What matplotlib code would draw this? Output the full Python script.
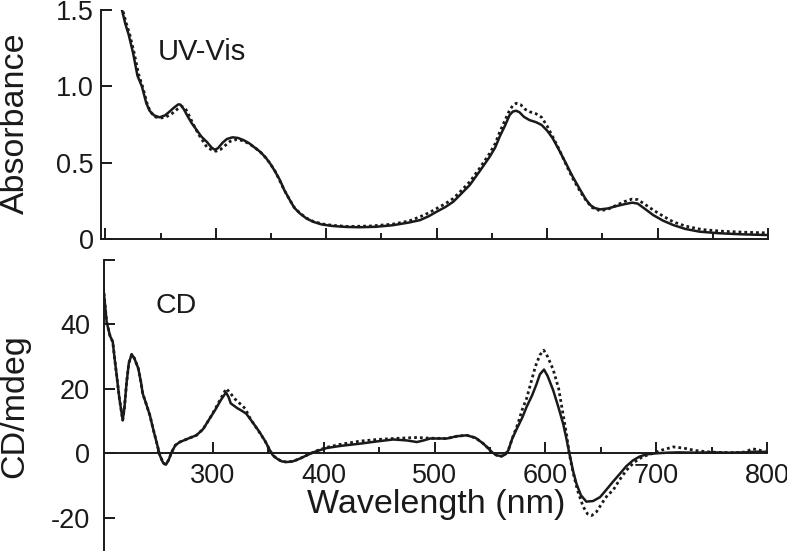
# UV-Vis absorbance and CD spectra, solid vs dotted sample

import matplotlib
matplotlib.use("Agg")
import matplotlib.pyplot as plt
from matplotlib.ticker import MultipleLocator

plt.rcParams['font.family'] = ['Liberation Sans', 'DejaVu Sans']

# UV-Vis, solid trace
wl_abs_solid = [215, 218, 221, 225, 229, 233, 237, 240, 244, 249, 254, 258, 262, 266, 268,
                271, 274, 278, 283, 287, 292, 296, 299, 302, 306, 310, 315, 320, 325, 330,
                335, 340, 345, 349, 353, 358, 362, 367, 371, 376, 382, 388, 396, 406, 418,
                430, 445, 460, 475, 485, 493, 500, 508, 515, 522, 530, 539, 548, 553, 557,
                562, 566, 569, 572, 575, 579, 584, 590, 595, 600, 605, 611, 617, 623, 630,
                635, 639, 643, 648, 655, 663, 670, 677, 682, 689, 696, 705, 714, 725, 738,
                755, 775, 799]
abs_solid = [1.50, 1.41, 1.34, 1.22, 1.07, 1.00, 0.89, 0.84, 0.81, 0.797, 0.81, 0.834, 0.86, 0.882, 0.88,
             0.85, 0.81, 0.76, 0.71, 0.67, 0.635, 0.60, 0.585, 0.595, 0.63, 0.655, 0.666, 0.662, 0.648, 0.628,
             0.60, 0.572, 0.535, 0.496, 0.45, 0.386, 0.32, 0.255, 0.205, 0.168, 0.135, 0.113, 0.095, 0.085, 0.079,
             0.077, 0.080, 0.090, 0.108, 0.124, 0.15, 0.179, 0.21, 0.244, 0.295, 0.354, 0.445, 0.539, 0.60, 0.67,
             0.745, 0.812, 0.835, 0.840, 0.83, 0.80, 0.779, 0.765, 0.747, 0.71, 0.66, 0.58, 0.496, 0.41, 0.321,
             0.26, 0.223, 0.203, 0.194, 0.20, 0.216, 0.228, 0.238, 0.232, 0.195, 0.157, 0.12, 0.092, 0.066, 0.048,
             0.038, 0.031, 0.026]

# UV-Vis, dotted trace
wl_abs_dot = [216, 219, 222, 226, 230, 234, 238, 241, 245, 250, 255, 260, 265, 269, 272,
              275, 279, 284, 288, 292, 296, 300, 304, 308, 313, 319, 325, 331, 336, 341,
              346, 350, 354, 358, 362, 367, 371, 376, 382, 388, 396, 406, 420, 440, 460,
              475, 485, 493, 500, 508, 515, 522, 530, 539, 548, 553, 557, 562, 566, 569,
              572, 576, 580, 584, 590, 595, 600, 605, 611, 617, 623, 630, 636, 641, 648,
              655, 663, 670, 677, 682, 689, 696, 705, 714, 725, 740, 760, 780, 800]
abs_dot = [1.49, 1.41, 1.34, 1.22, 1.08, 0.99, 0.88, 0.83, 0.80, 0.792, 0.80, 0.82, 0.85, 0.868, 0.86,
           0.82, 0.76, 0.69, 0.645, 0.60, 0.585, 0.575, 0.585, 0.61, 0.64, 0.652, 0.643, 0.62, 0.595, 0.565,
           0.525, 0.485, 0.44, 0.38, 0.32, 0.255, 0.207, 0.17, 0.137, 0.116, 0.099, 0.089, 0.082, 0.085, 0.097,
           0.118, 0.146, 0.172, 0.20, 0.232, 0.266, 0.315, 0.375, 0.465, 0.561, 0.625, 0.70, 0.78, 0.844, 0.875,
           0.889, 0.88, 0.85, 0.834, 0.82, 0.797, 0.74, 0.67, 0.585, 0.49, 0.40, 0.31, 0.245, 0.205, 0.185,
           0.195, 0.222, 0.245, 0.262, 0.258, 0.225, 0.19, 0.15, 0.113, 0.085, 0.062, 0.05, 0.044, 0.04]

# CD, solid trace
wl_cd_solid = [200.5, 202, 204, 207, 209.5, 211, 213, 215.5, 218.5, 220, 222, 224, 226.6, 229, 232.6,
               235, 236.5, 240, 243, 246, 249, 252, 255, 257.6, 260, 262.7, 266, 270, 277, 285,
               291, 297, 302, 307, 311.7, 314, 316, 318, 322, 326, 330, 336, 342, 347, 351.4,
               354, 357.5, 362, 366.5, 372, 378, 384.6, 392, 402.6, 415, 432.7, 448, 462.7, 475, 484,
               490, 496, 511, 520, 529, 537, 544, 548, 551.5, 556, 560.5, 564, 566.5, 570, 574,
               579, 583, 588, 592, 595, 598.7, 602, 607, 612, 616, 619, 621.6, 625, 628, 632,
               637, 643, 649.3, 655, 661, 667.3, 673, 679, 685, 691.4, 700, 710, 720, 735, 750,
               765, 780, 790, 800]
cd_solid = [53.3, 48, 40.8, 36.5, 34.6, 30, 24.3, 17, 10.3, 14, 22, 28, 30.7, 29.5, 26.3,
            22, 18.6, 15, 11.8, 7.5, 3.5, -0.6, -3.0, -3.5, -2.0, 0.4, 2.5, 3.5, 4.5, 5.6,
            7.5, 10.8, 13.5, 16.5, 18.9, 17.5, 15.5, 15.0, 14.0, 13.2, 12.3, 9.5, 6.6, 3.8, 0.9,
            -0.6, -1.6, -2.5, -2.7, -2.5, -1.7, -0.6, 0.5, 1.65, 2.3, 3.0, 3.7, 4.3, 4.0, 3.5,
            4.0, 4.6, 4.6, 5.3, 5.6, 4.8, 3.0, 1.7, 0.4, -0.6, -0.9, -0.3, 0.9, 4.5, 7.5,
            11, 14.4, 18, 21.5, 24.5, 26, 24, 19.6, 14, 9.2, 4.5, 0, -5.5, -9.4, -13,
            -15.0, -14.8, -13.6, -11.3, -8.8, -6.3, -4.0, -2.2, -1.0, -0.3, 0.0, 0.2, 0.3, 0.2, 0.3,
            0.2, 0.3, 0.5, 0.4]

# CD, dotted trace
wl_cd_dot = [200.5, 202, 204, 207, 209.5, 211, 213, 215.5, 218.5, 220, 222, 224, 226.6, 229, 232.6,
             235, 236.5, 240, 243, 246, 249, 252, 255, 257.6, 260, 262.7, 266, 270, 277, 285,
             291, 297, 302, 307, 312, 316, 320, 325, 329, 334, 340, 347, 351.4, 354, 357.5,
             362, 366.5, 372, 378, 384.6, 392, 402, 415, 433, 448, 463, 475, 484, 496, 511,
             520, 529, 537, 544, 548, 551.5, 556, 560.5, 564, 567, 571, 575, 579, 583, 587,
             591, 595, 598.5, 602, 607, 612, 616, 619, 621.5, 625, 629, 634, 638, 641.7, 646,
             652, 656, 661, 667, 673, 680, 688, 697, 705, 715.5, 725, 735, 745, 755, 770,
             780, 787, 793, 800]
cd_dot = [53.3, 48, 40.8, 36.5, 34.6, 30, 24.3, 17, 10.3, 14, 22, 28, 30.7, 29.5, 26.3,
          22, 18.6, 15, 11.8, 7.5, 3.5, -0.6, -3.0, -3.5, -2.0, 0.4, 2.5, 3.5, 4.5, 5.6,
          7.5, 10.8, 13.8, 17, 20.1, 18.5, 16.8, 15.2, 13.9, 10.5, 7.5, 3.8, 0.9, -0.6, -1.6,
          -2.5, -2.7, -2.5, -1.7, -0.6, 0.6, 1.8, 2.8, 3.8, 4.3, 4.6, 4.8, 4.9, 4.7, 4.6,
          5.3, 5.6, 4.8, 3.0, 1.7, 0.4, -0.6, -0.9, -0.3, 1.5, 5.5, 9, 13.5, 17, 22,
          27, 30.5, 32, 30, 26, 20, 12, 6, 0, -6, -11.5, -16.5, -18.8, -19.3, -18.2,
          -15, -13, -11.5, -8.2, -5.3, -2.8, -1.0, 0, 1.0, 2.0, 1.6, 0.9, 0.5, 0.3, 0.2,
          0.4, 1.4, 1.0, 0.3]

ink = '#1a1a1a'
W, H = 787, 551
fig = plt.figure(figsize=(W / 100, H / 100), dpi=100)

# top panel: UV-Vis
ax1 = fig.add_axes([101 / W, 1 - 239 / H, 667 / W, 229 / H])
ax1.plot(wl_abs_solid, abs_solid, color=ink, lw=1.8)
ax1.plot(wl_abs_dot, abs_dot, color=ink, lw=2.0, linestyle=(0, (1, 1.1)))
ax1.set_xlim(196, 800)
ax1.set_ylim(0, 1.5)
ax1.set_yticks([0, 0.5, 1.0, 1.5])
ax1.set_yticklabels(['0', '0.5', '1.0', '1.5'])
ax1.xaxis.set_major_locator(MultipleLocator(100))
ax1.xaxis.set_minor_locator(MultipleLocator(50))
ax1.tick_params(axis='x', labelbottom=False)
ax1.tick_params(which='major', direction='in', length=8, width=1.4, color=ink)
ax1.tick_params(which='minor', direction='in', length=4.5, width=1.4, color=ink)
ax1.tick_params(axis='y', labelsize=19.5, pad=5, labelcolor=ink)
for s in ['top', 'right']:
    ax1.spines[s].set_visible(False)
for s in ['left', 'bottom']:
    ax1.spines[s].set_linewidth(1.4)
    ax1.spines[s].set_color(ink)
ax1.patch.set_alpha(0)
fig.text(15 / W, 1 - 123 / H, 'Absorbance', rotation=90, ha='center', va='center',
         fontsize=24.5, color=ink)
fig.text(202 / W, 1 - 52 / H, 'UV-Vis', ha='center', va='center', fontsize=21, color=ink)

# bottom panel: CD
ax2 = fig.add_axes([104 / W, 1 - 550 / H, 663 / W, 290 / H])
ax2.plot(wl_cd_solid, cd_solid, color=ink, lw=1.8)
ax2.plot(wl_cd_dot, cd_dot, color=ink, lw=2.0, linestyle=(0, (1, 1.1)))
ax2.set_xlim(201.6, 800)
ax2.set_ylim(-30, 60)
ax2.set_yticks([-20, 0, 20, 40, 60])
ax2.set_yticklabels(['-20', '0', '20', '40', ''])
ax2.set_xticks([300, 400, 500, 600, 700, 800])
ax2.xaxis.set_minor_locator(MultipleLocator(50))
ax2.spines['bottom'].set_position(('data', 0))
for s in ['top', 'right']:
    ax2.spines[s].set_visible(False)
for s in ['left', 'bottom']:
    ax2.spines[s].set_linewidth(1.4)
    ax2.spines[s].set_color(ink)
ax2.tick_params(which='major', direction='in', length=8, width=1.4, color=ink)
ax2.tick_params(which='minor', direction='in', length=4.5, width=1.4, color=ink)
ax2.tick_params(axis='x', labelsize=19.5, pad=7, labelcolor=ink)
ax2.tick_params(axis='y', labelsize=19.5, pad=10, labelcolor=ink)
ax2.patch.set_alpha(0)
fig.text(15 / W, 1 - 406 / H, 'CD/mdeg', rotation=90, ha='center', va='center',
         fontsize=24.5, color=ink)
fig.text(176 / W, 1 - 306 / H, 'CD', ha='center', va='center', fontsize=20.5, color=ink)
fig.text(436 / W, 1 - 505 / H, 'Wavelength (nm)', ha='center', va='center',
         fontsize=24.5, color=ink)

fig.savefig('out.png', dpi=100)
